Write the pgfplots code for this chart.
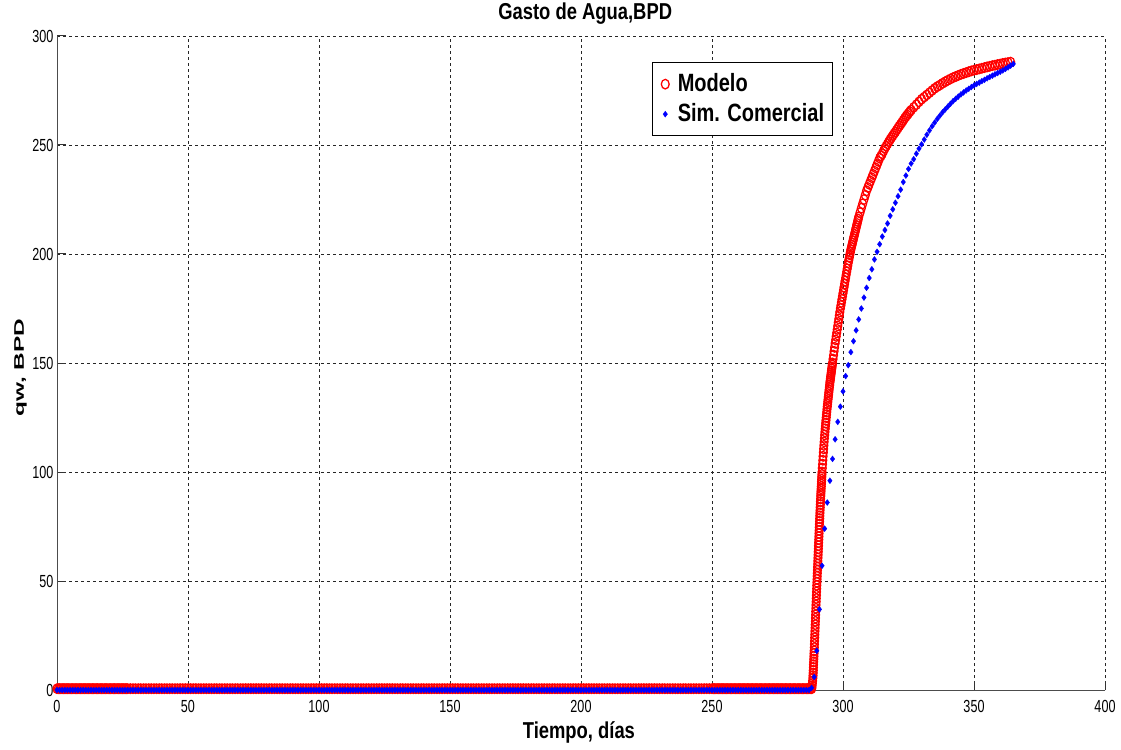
\documentclass[border=0pt]{standalone}
\usepackage{pgfplots}
\pgfplotsset{compat=1.18}
\usepackage{fontspec}
\usepackage{graphicx}
\setmainfont{Liberation Sans}[FakeStretch=0.8]
\newfontfamily\ylabfont{Liberation Sans}
\newfontfamily\tickfont{Liberation Sans}[FakeStretch=0.72]
\begin{document}
\begin{tikzpicture}
\begin{axis}[
 scale only axis, width=1048pt, height=654pt,
 xmin=0, xmax=400, ymin=0, ymax=300,
 xtick={0,50,...,400}, ytick={0,50,...,300},
 axis x line=bottom, axis y line=left,
 axis line style={-, line width=1pt, black!70},
 tick align=inside, major tick length=9pt,
 tick style={line width=1pt, black!80},
 grid=major,
 major grid style={line width=0.8pt, black!85, dash pattern=on 3pt off 3pt},
 clip=false,
 /pgf/number format/assume math mode=true,
 tick label style={font=\tickfont\fontsize{17.5}{20}\selectfont},
 xticklabel style={anchor=base, yshift=-22pt},
 yticklabel style={anchor=east},
 title={Gasto de Agua,BPD},
 title style={at={(axis description cs:0.504,1.0168)}, anchor=base, font=\fontsize{23}{27}\selectfont\bfseries},
 xlabel={Tiempo, días},
 xlabel style={at={(axis description cs:0.498,-0.0734)}, anchor=base, font=\fontsize{23}{27}\selectfont\bfseries},
 ylabel={\scalebox{1}[0.57]{\ylabfont\bfseries\fontsize{24.4}{28}\selectfont qw, BPD}},
 ylabel style={at={(axis description cs:-0.0315,0.493)}, anchor=base},
 legend style={at={(axis description cs:0.568,0.960)}, anchor=north west, draw=black, line width=1pt, fill=white, font=\fontsize{25}{30}\selectfont\bfseries, inner xsep=5pt, inner ysep=6.5pt, row sep=0pt, nodes={inner sep=3pt, text height=19pt, text depth=5pt}},
 legend image code/.code={\path (0pt,0pt) (16pt,0pt); \draw[#1] plot coordinates {(7pt,0pt)};},
 legend cell align=left,
]
\addplot[only marks, mark=o, red, mark size=4.8pt, mark options={xscale=0.82, line width=1.3pt, draw=red}] coordinates {
(0,0.6)(0.5,0.6)(1,0.6)(1.5,0.6)(2,0.6)(2.5,0.6)(3,0.6)(3.5,0.6)(4,0.6)(4.5,0.6)
(5,0.6)(5.5,0.6)(6,0.6)(6.5,0.6)(7,0.6)(7.5,0.6)(8,0.6)(8.5,0.6)(9,0.6)(9.5,0.6)
(10,0.6)(10.5,0.6)(11,0.6)(11.5,0.6)(12,0.6)(12.5,0.6)(13,0.6)(13.5,0.6)(14,0.6)(14.5,0.6)
(15,0.6)(15.5,0.6)(16,0.6)(16.5,0.6)(17,0.6)(17.5,0.6)(18,0.6)(18.5,0.6)(19,0.6)(19.5,0.6)
(20,0.6)(20.5,0.6)(21,0.6)(21.5,0.6)(22,0.6)(22.5,0.6)(23,0.6)(23.5,0.6)(24,0.6)(24.5,0.6)
(25,0.6)(25.5,0.6)(26,0.6)(26.5,0.6)
(27,0.6)(28,0.6)(29,0.6)(30,0.6)(31,0.6)(32,0.6)(33,0.6)(34,0.6)(35,0.6)(36,0.6)(37,0.6)(38,0.6)(39,0.6)
(40,0.6)(41,0.6)(42,0.6)(43,0.6)(44,0.6)(45,0.6)(46,0.6)(47,0.6)(48,0.6)(49,0.6)
(50,0.6)(51,0.6)(52,0.6)(53,0.6)(54,0.6)(55,0.6)(56,0.6)(57,0.6)(58,0.6)(59,0.6)
(60,0.6)(61,0.6)(62,0.6)(63,0.6)(64,0.6)(65,0.6)(66,0.6)(67,0.6)(68,0.6)(69,0.6)
(70,0.6)(71,0.6)(72,0.6)(73,0.6)(74,0.6)(75,0.6)(76,0.6)(77,0.6)(78,0.6)(79,0.6)
(80,0.6)(81,0.6)(82,0.6)(83,0.6)(84,0.6)(85,0.6)(86,0.6)(87,0.6)(88,0.6)(89,0.6)
(90,0.6)(91,0.6)(92,0.6)(93,0.6)(94,0.6)(95,0.6)(96,0.6)(97,0.6)(98,0.6)(99,0.6)
(100,0.6)(101,0.6)(102,0.6)(103,0.6)(104,0.6)(105,0.6)(106,0.6)(107,0.6)(108,0.6)(109,0.6)
(110,0.6)(111,0.6)(112,0.6)(113,0.6)(114,0.6)(115,0.6)(116,0.6)(117,0.6)(118,0.6)(119,0.6)
(120,0.6)(121,0.6)(122,0.6)(123,0.6)(124,0.6)(125,0.6)(126,0.6)(127,0.6)(128,0.6)(129,0.6)
(130,0.6)(131,0.6)(132,0.6)(133,0.6)(134,0.6)(135,0.6)(136,0.6)(137,0.6)(138,0.6)(139,0.6)
(140,0.6)(141,0.6)(142,0.6)(143,0.6)(144,0.6)(145,0.6)(146,0.6)(147,0.6)(148,0.6)(149,0.6)
(150,0.6)(151,0.6)(152,0.6)(153,0.6)(154,0.6)(155,0.6)(156,0.6)(157,0.6)(158,0.6)(159,0.6)
(160,0.6)(161,0.6)(162,0.6)(163,0.6)(164,0.6)(165,0.6)(166,0.6)(167,0.6)(168,0.6)(169,0.6)
(170,0.6)(171,0.6)(172,0.6)(173,0.6)(174,0.6)(175,0.6)(176,0.6)(177,0.6)(178,0.6)(179,0.6)
(180,0.6)(181,0.6)(182,0.6)(183,0.6)(184,0.6)(185,0.6)(186,0.6)(187,0.6)(188,0.6)(189,0.6)
(190,0.6)(191,0.6)(192,0.6)(193,0.6)(194,0.6)(195,0.6)(196,0.6)(197,0.6)(198,0.6)(199,0.6)
(200,0.6)(201,0.6)(202,0.6)(203,0.6)(204,0.6)(205,0.6)(206,0.6)(207,0.6)(208,0.6)(209,0.6)
(210,0.6)(211,0.6)(212,0.6)(213,0.6)(214,0.6)(215,0.6)(216,0.6)(217,0.6)(218,0.6)(219,0.6)
(220,0.6)(221,0.6)(222,0.6)(223,0.6)(224,0.6)(225,0.6)(226,0.6)(227,0.6)(228,0.6)(229,0.6)
(230,0.6)(231,0.6)(232,0.6)(233,0.6)(234,0.6)(235,0.6)(236,0.6)(237,0.6)(238,0.6)(239,0.6)
(240,0.6)(241,0.6)(242,0.6)(243,0.6)(244,0.6)(245,0.6)(246,0.6)(247,0.6)(248,0.6)(249,0.6)
(250,0.6)(250.5,0.6)(251,0.6)(251.5,0.6)(252,0.6)(252.5,0.6)(253,0.6)(253.5,0.6)(254,0.6)(254.5,0.6)
(255,0.6)(255.5,0.6)(256,0.6)(256.5,0.6)(257,0.6)(257.5,0.6)(258,0.6)(258.5,0.6)(259,0.6)(259.5,0.6)
(260,0.6)(260.5,0.6)(261,0.6)(261.5,0.6)(262,0.6)(262.5,0.6)(263,0.6)(263.5,0.6)(264,0.6)(264.5,0.6)
(265,0.6)(265.5,0.6)(266,0.6)(266.5,0.6)(267,0.6)(267.5,0.6)(268,0.6)(268.5,0.6)(269,0.6)(269.5,0.6)
(270,0.6)(270.5,0.6)(271,0.6)(271.5,0.6)(272,0.6)(272.5,0.6)(273,0.6)(273.5,0.6)(274,0.6)(274.5,0.6)
(275,0.6)(275.5,0.6)(276,0.6)(276.5,0.6)(277,0.6)(277.5,0.6)(278,0.6)(278.5,0.6)(279,0.6)(279.5,0.6)
(280,0.6)(280.5,0.6)(281,0.6)(281.5,0.6)(282,0.6)(282.5,0.6)(283,0.6)(283.5,0.6)(284,0.6)(284.5,0.6)
(285,0.6)(285.5,0.6)(286,0.6)(286.5,0.6)(287,0.6)(287.5,0.6)
(288.0,0.6)(288.1,1.0)(288.2,1.9)(288.3,3.0)(288.4,4.2)(288.5,5.5)
(288.55,6.6)(288.6,7.8)(288.65,9.0)(288.7,10.3)(288.75,11.6)(288.8,12.9)(288.85,14.2)(288.9,15.5)(288.95,16.8)(289,18)
(289.05,19.5)(289.1,21)(289.15,22.5)(289.2,24)(289.25,25.5)(289.3,27)(289.35,28.5)(289.4,30)(289.45,31.5)(289.5,33)
(289.55,34.5)(289.6,36)(289.65,37.5)(289.7,39)(289.75,40.5)(289.8,42)(289.85,43.5)(289.9,45)(289.95,46.5)(290,48)
(290.05,49.4)(290.1,50.8)(290.15,52.2)(290.2,53.6)(290.25,55)(290.3,56.4)(290.35,57.8)(290.4,59.2)(290.45,60.6)(290.5,62)
(290.55,63.4)(290.6,64.8)(290.65,66.2)(290.7,67.6)(290.75,69)(290.8,70.4)(290.85,71.8)(290.9,73.2)(290.95,74.6)(291,76)
(291.05,77.3)(291.1,78.6)(291.15,79.9)(291.2,81.2)(291.25,82.5)(291.3,83.8)(291.35,85.1)(291.4,86.4)(291.45,87.7)(291.5,89)
(291.55,90.1)(291.6,91.2)(291.65,92.3)(291.7,93.4)(291.75,94.5)(291.8,95.6)(291.85,96.7)(291.9,97.8)(291.95,98.9)(292,100)
(292.1,101.8)(292.2,103.6)(292.3,105.4)(292.4,107.2)(292.5,109)(292.6,110.6)(292.7,112.2)(292.8,113.8)(292.9,115.4)(293,117)
(293.1,118.4)(293.2,119.8)(293.3,121.1)(293.4,122.4)(293.5,123.7)(293.6,125)(293.7,126.3)(293.8,127.5)(293.9,128.8)(294,130)
(294.1,131.1)(294.2,132.2)(294.3,133.3)(294.4,134.4)(294.5,135.5)(294.6,136.6)(294.7,137.7)(294.8,138.8)(294.9,139.9)(295,141)
(295.1,141.9)(295.2,142.8)(295.3,143.7)(295.4,144.6)(295.5,145.5)(295.6,146.4)(295.7,147.3)(295.8,148.2)(295.9,149.1)(296,150)
(296.2,151.8)(296.4,153.6)(296.6,155.4)(296.8,157.2)(297,159)(297.2,160.6)(297.4,162.2)(297.6,163.8)(297.8,165.4)(298,167)
(298.2,168.6)(298.4,170.2)(298.6,171.8)(298.8,173.4)(299,175)(299.2,176.4)(299.4,177.8)(299.6,179.2)(299.8,180.6)(300,182)
(300.2,183.4)(300.4,184.8)(300.6,186.2)(300.8,187.6)(301,189)(301.2,190.4)(301.4,191.8)(301.6,193.2)(301.8,194.6)(302,196)
(302.2,197.2)(302.4,198.4)(302.6,199.6)(302.8,200.8)(303,202)(303.2,203)(303.4,204)(303.6,205)(303.8,206)(304,207)
(304.2,208)(304.4,209)(304.6,210)(304.8,211)(305,212)(305.2,213)(305.4,214)(305.6,215)(305.8,216)(306,217)
(306.5,219)(307,221)(307.5,223)
(308,225)(308.5,227)(309,229)(309.5,230.5)(310,232)(310.5,233.5)(311,235)(311.5,236.5)
(312,238)(312.5,239.5)(313,241)(313.5,242.5)(314,244)(314.5,245)(315,246)(315.5,247.3)
(316,248.5)(316.5,249.5)(317,250.5)(317.5,251.5)(318,252.5)(318.5,253.4)(319,254.3)(319.5,255.2)
(320,256)(320.5,256.9)(321,257.8)(321.5,258.7)(322,259.5)(322.5,260.4)(323,261.3)(323.5,262.2)(324,263)(324.5,263.8)
(325,264.5)(325.5,265.3)(326,266)(327,267.3)(328,268.5)(329,269.8)
(330,271)(331,272)(332,273)(333,274)(334,275)(335,276)(336,276.8)(337,277.5)(338,278.3)(339,279)
(340,279.7)(341,280.3)(342,280.9)(343,281.4)(344,281.9)(345,282.4)(346,282.8)(347,283.2)(348,283.6)(349,284)
(350,284.3)(351,284.6)(352,284.9)(353,285.2)(354,285.5)(355,285.8)(356,286.1)(357,286.4)(358,286.6)(359,286.9)
(360,287.1)(361,287.4)(362,287.6)(363,287.8)(364,288)
};
\addlegendentry{Modelo}
\addplot[only marks, mark=diamond*, blue, mark size=3pt, mark options={fill=blue, draw=blue, line width=0.3pt}] coordinates {
(0,0)(1,0)(2,0)(3,0)(4,0)(5,0)(6,0)(7,0)(8,0)(9,0)
(10,0)(11,0)(12,0)(13,0)(14,0)(15,0)(16,0)(17,0)(18,0)(19,0)
(20,0)(21,0)(22,0)(23,0)(24,0)(25,0)(26,0)(27,0)(28,0)(29,0)
(30,0)(31,0)(32,0)(33,0)(34,0)(35,0)(36,0)(37,0)(38,0)(39,0)
(40,0)(41,0)(42,0)(43,0)(44,0)(45,0)(46,0)(47,0)(48,0)(49,0)
(50,0)(51,0)(52,0)(53,0)(54,0)(55,0)(56,0)(57,0)(58,0)(59,0)
(60,0)(61,0)(62,0)(63,0)(64,0)(65,0)(66,0)(67,0)(68,0)(69,0)
(70,0)(71,0)(72,0)(73,0)(74,0)(75,0)(76,0)(77,0)(78,0)(79,0)
(80,0)(81,0)(82,0)(83,0)(84,0)(85,0)(86,0)(87,0)(88,0)(89,0)
(90,0)(91,0)(92,0)(93,0)(94,0)(95,0)(96,0)(97,0)(98,0)(99,0)
(100,0)(101,0)(102,0)(103,0)(104,0)(105,0)(106,0)(107,0)(108,0)(109,0)
(110,0)(111,0)(112,0)(113,0)(114,0)(115,0)(116,0)(117,0)(118,0)(119,0)
(120,0)(121,0)(122,0)(123,0)(124,0)(125,0)(126,0)(127,0)(128,0)(129,0)
(130,0)(131,0)(132,0)(133,0)(134,0)(135,0)(136,0)(137,0)(138,0)(139,0)
(140,0)(141,0)(142,0)(143,0)(144,0)(145,0)(146,0)(147,0)(148,0)(149,0)
(150,0)(151,0)(152,0)(153,0)(154,0)(155,0)(156,0)(157,0)(158,0)(159,0)
(160,0)(161,0)(162,0)(163,0)(164,0)(165,0)(166,0)(167,0)(168,0)(169,0)
(170,0)(171,0)(172,0)(173,0)(174,0)(175,0)(176,0)(177,0)(178,0)(179,0)
(180,0)(181,0)(182,0)(183,0)(184,0)(185,0)(186,0)(187,0)(188,0)(189,0)
(190,0)(191,0)(192,0)(193,0)(194,0)(195,0)(196,0)(197,0)(198,0)(199,0)
(200,0)(201,0)(202,0)(203,0)(204,0)(205,0)(206,0)(207,0)(208,0)(209,0)
(210,0)(211,0)(212,0)(213,0)(214,0)(215,0)(216,0)(217,0)(218,0)(219,0)
(220,0)(221,0)(222,0)(223,0)(224,0)(225,0)(226,0)(227,0)(228,0)(229,0)
(230,0)(231,0)(232,0)(233,0)(234,0)(235,0)(236,0)(237,0)(238,0)(239,0)
(240,0)(241,0)(242,0)(243,0)(244,0)(245,0)(246,0)(247,0)(248,0)(249,0)
(250,0)(251,0)(252,0)(253,0)(254,0)(255,0)(256,0)(257,0)(258,0)(259,0)
(260,0)(261,0)(262,0)(263,0)(264,0)(265,0)(266,0)(267,0)(268,0)(269,0)
(270,0)(271,0)(272,0)(273,0)(274,0)(275,0)(276,0)(277,0)(278,0)(279,0)
(280,0)(281,0)(282,0)(283,0)(284,0)(285,0)(286,0)(287,0)
(288,1)(289,6)(290,18)(291,37)(292,57)(293,74)(294,86)(295,96)(296,106)(297,115)
(298,123)(299,130)(300,137)(301,144)(302,149)(303,155)(304,160)(305,165)(306,170)(307,175)
(308,180)(309,184.5)(310,189)(311,193)(312,197.5)(313,201)(314,204.5)(315,208)(316,211)(317,214)
(318,217.5)(319,220.5)(320,223.5)(321,226.5)(322,229.5)(323,233)(324,236)(325,239)(326,241.5)(327,243.5)
(328,246)(329,248.3)(330,250.3)(331,252.5)(332,254.7)(333,256.7)(334,258.6)(335,260.3)(336,262)(337,263.5)
(338,265)(339,266.3)(340,267.6)(341,268.9)(342,270.1)(343,271.2)(344,272.2)(345,273.2)(346,274.1)(347,275)
(348,275.8)(349,276.6)(350,277.3)(351,278)(352,278.6)(353,279.3)(354,279.9)(355,280.6)(356,281.2)(357,281.8)
(358,282.4)(359,283)(360,283.6)(361,284.2)(362,284.9)(363,285.6)(364,286.4)(365,287.2)
};
\addlegendentry{Sim. Comercial}
\end{axis}
\pgfresetboundingbox
\path[use as bounding box] ([shift={(-57pt,-59pt)}]current axis.south west) rectangle ([shift={(16pt,36pt)}]current axis.north east);
\end{tikzpicture}
\end{document}
